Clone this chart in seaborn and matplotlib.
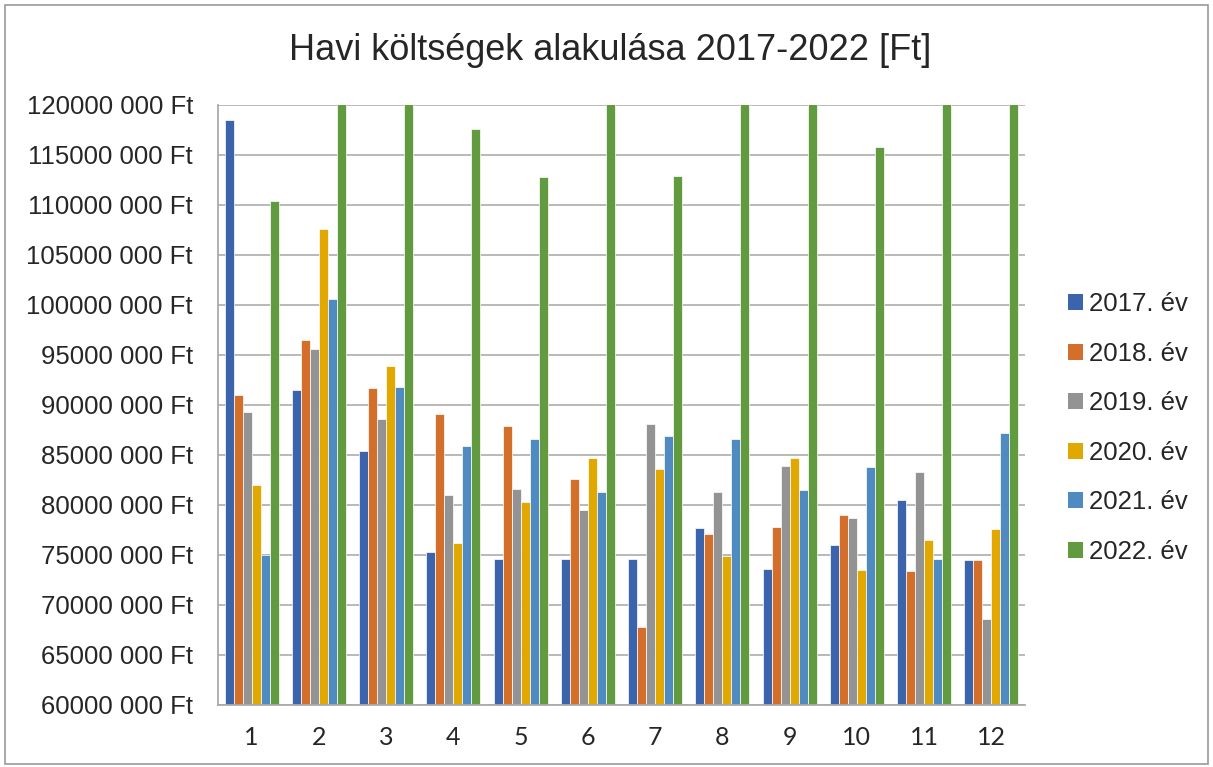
import pandas as pd
import numpy as np
import matplotlib
matplotlib.use("Agg")
import matplotlib.pyplot as plt
import seaborn as sns
from matplotlib.patches import Rectangle, Patch
from matplotlib.ticker import FuncFormatter, FixedLocator

# havi koltsegek (Ft), 2022 ertekei nagy reszt a tengely fole nyulnak
honapok = [1, 2, 3, 4, 5, 6, 7, 8, 9, 10, 11, 12]
evek = ["2017. év", "2018. év", "2019. év", "2020. év", "2021. év", "2022. év"]
k2017 = [118460000, 91540000, 85410000, 75280000, 74600000, 74600000, 74640000, 77690000, 73570000, 75950000, 80540000, 74450000]
k2018 = [90950000, 96530000, 91660000, 89130000, 87940000, 82560000, 67760000, 77100000, 77770000, 79000000, 73380000, 74490000]
k2019 = [89290000, 95620000, 88570000, 81020000, 81570000, 79510000, 88100000, 81330000, 83860000, 78680000, 83270000, 68630000]
k2020 = [82000000, 107610000, 93920000, 76150000, 80300000, 84660000, 83550000, 74880000, 84730000, 73530000, 76540000, 77610000]
k2021 = [75040000, 100570000, 91820000, 85880000, 86560000, 81330000, 86910000, 86600000, 81490000, 83780000, 74640000, 87230000]
k2022 = [110380000, 124000000, 124000000, 117590000, 112840000, 124000000, 112880000, 124000000, 124000000, 115840000, 124000000, 124000000]

szinek = ["#3c64ad", "#d46e2b", "#939393", "#e0a800", "#4f8bc0", "#629b3f"]

df = pd.DataFrame({
    "honap": np.tile(honapok, 6),
    "ev": np.repeat(evek, 12),
    "koltseg": k2017 + k2018 + k2019 + k2020 + k2021 + k2022,
})

sns.set_style("white")
plt.rcParams["font.family"] = ["Liberation Sans", "DejaVu Sans"]

fig = plt.figure(figsize=(12.13, 7.67), dpi=100)
ax = fig.add_axes([218 / 1213, 1 - 705 / 767, (1025 - 218) / 1213, 600 / 767])

sns.barplot(data=df, x="honap", y="koltseg", hue="ev", palette=szinek, width=0.8,
            saturation=1, edgecolor="white", linewidth=0.5, ax=ax, legend=False)

ax.set_ylim(60000000, 120000000)
ax.set_xlim(-0.5, 11.5)
ax.yaxis.set_major_locator(FixedLocator(np.arange(60000000, 120000001, 5000000)))
ax.yaxis.set_major_formatter(FuncFormatter(lambda v, p: f"{int(v / 1000)} 000 Ft"))
ax.yaxis.grid(True, color="#b3b3b3", linewidth=1.3)
ax.set_axisbelow(True)
ax.set_xlabel("")
ax.set_ylabel("")
ax.tick_params(axis="y", labelsize=18.5, length=6, width=1.2, color="#aaaaaa", pad=12)
ax.tick_params(axis="x", labelsize=18, length=0, pad=15)
ax.set_xticks(range(12))
ax.set_xticklabels([str(h) for h in honapok], family=["Lato", "DejaVu Sans"])
ax.set_xticks(np.arange(-0.5, 12, 1), minor=True)
ax.tick_params(axis="x", which="minor", length=6, width=1.2, color="#aaaaaa", direction="out")

for s in ["top", "right"]:
    ax.spines[s].set_visible(False)
ax.spines["left"].set_color("#aaaaaa")
ax.spines["bottom"].set_color("#aaaaaa")
ax.spines["left"].set_linewidth(1.3)
ax.spines["bottom"].set_linewidth(1.3)

fig.text(0.503, 1 - 50 / 767, "Havi költségek alakulása 2017-2022 [Ft]",
         ha="center", va="center", fontsize=26)

handles = [Patch(facecolor=c, edgecolor="none") for c in szinek]
fig.legend(handles, evek, loc="center left", bbox_to_anchor=(1068 / 1213, 1 - 428 / 767),
           frameon=False, fontsize=18.5, handlelength=0.58, handleheight=0.58,
           handletextpad=0.25, labelspacing=0.99, borderpad=0, borderaxespad=0)

fig.patches.append(Rectangle((0.004, 0.004), 0.992, 0.99, transform=fig.transFigure,
                             fill=False, edgecolor="#9a9a9a", linewidth=1.2))

fig.savefig("out.png", dpi=100)
